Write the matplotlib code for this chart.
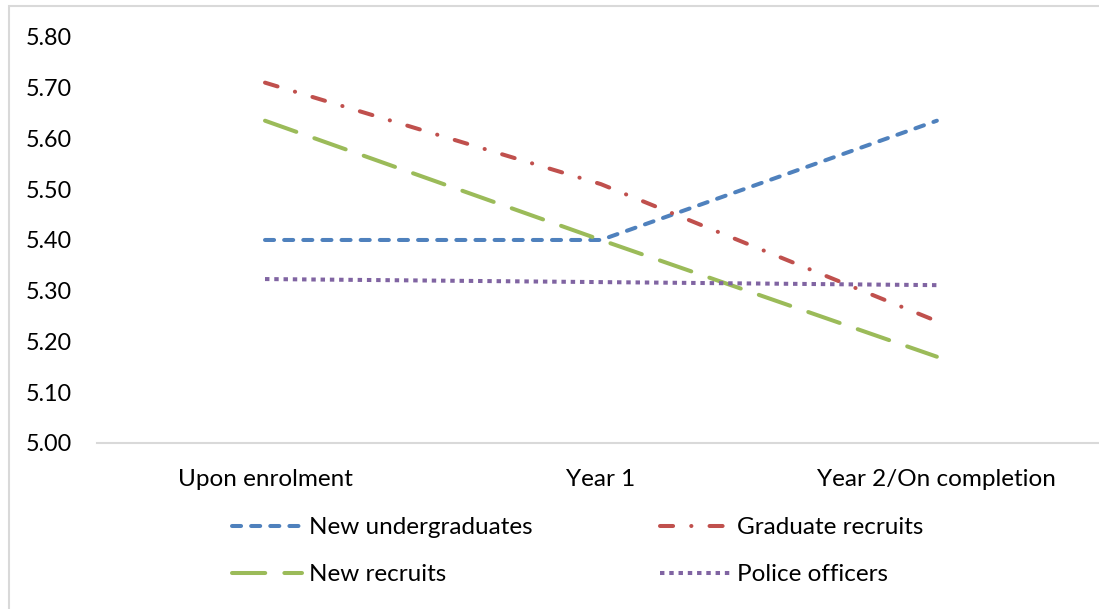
import matplotlib.pyplot as plt
from matplotlib.patches import Rectangle

plt.rcParams['font.family'] = ['Lato', 'DejaVu Sans']

categories = ['Upon enrolment', 'Year 1', 'Year 2/On completion']
new_undergraduates = [5.40, 5.40, 5.635]
graduate_recruits = [5.71, 5.51, 5.24]
new_recruits = [5.635, 5.40, 5.17]
police_officers = [5.323, 5.317, 5.311]
yticks = [5.00, 5.10, 5.20, 5.30, 5.40, 5.50, 5.60, 5.70, 5.80]

fig = plt.figure(figsize=(10.99, 6.09), dpi=100)
ax = fig.add_axes([0.0883, 0.2726, 0.917, 0.6667])

x = range(len(categories))
lw = 2.9
l1, = ax.plot(x, new_undergraduates, color='#4F81BD', lw=lw,
              dashes=(2.25, 2.5), dash_capstyle='round', label='New undergraduates')
l2, = ax.plot(x, graduate_recruits, color='#C0504D', lw=lw,
              dashes=(3.25, 4.5, 0.05, 4.5), dash_capstyle='round', label='Graduate recruits')
l3, = ax.plot(x, new_recruits, color='#9BBB59', lw=lw,
              dashes=(8.25, 4.75), dash_capstyle='round', label='New recruits')
l4, = ax.plot(x, police_officers, color='#8064A2', lw=lw,
              dashes=(1.1, 1.2), dash_capstyle='butt', label='Police officers')

ax.set_xlim(-0.5, 2.5)
ax.set_ylim(5.0, 5.8)
ax.set_yticks(yticks)
ax.set_yticklabels([f'{v:.2f}' for v in yticks])
ax.set_xticks(list(x))
ax.set_xticklabels(categories)
ax.tick_params(axis='y', length=0, pad=18, labelsize=16.8)
ax.tick_params(axis='x', length=0, pad=19, labelsize=17.5)
for s in ['top', 'right', 'left']:
    ax.spines[s].set_visible(False)
ax.spines['bottom'].set_color('#D9D9D9')
ax.spines['bottom'].set_linewidth(1.5)
ax.spines['bottom'].set_clip_on(False)

# two single-column legends laid out side by side
kw = dict(frameon=False, fontsize=17.5, handlelength=2.88, handletextpad=0.27,
          labelspacing=1.06, borderpad=0, borderaxespad=0, loc='center left')
leg1 = fig.legend(handles=[l1, l3], bbox_to_anchor=(232 / 1099, 0.095), **kw)
leg2 = fig.legend(handles=[l2, l4], bbox_to_anchor=(660 / 1099, 0.095), **kw)

fig.patches.append(Rectangle((8.5 / 1099, -0.1), 1.2, 1.1 - 6.5 / 609,
                             transform=fig.transFigure, fill=False,
                             edgecolor='#D9D9D9', lw=1.5))

fig.savefig('out.png', dpi=100)
